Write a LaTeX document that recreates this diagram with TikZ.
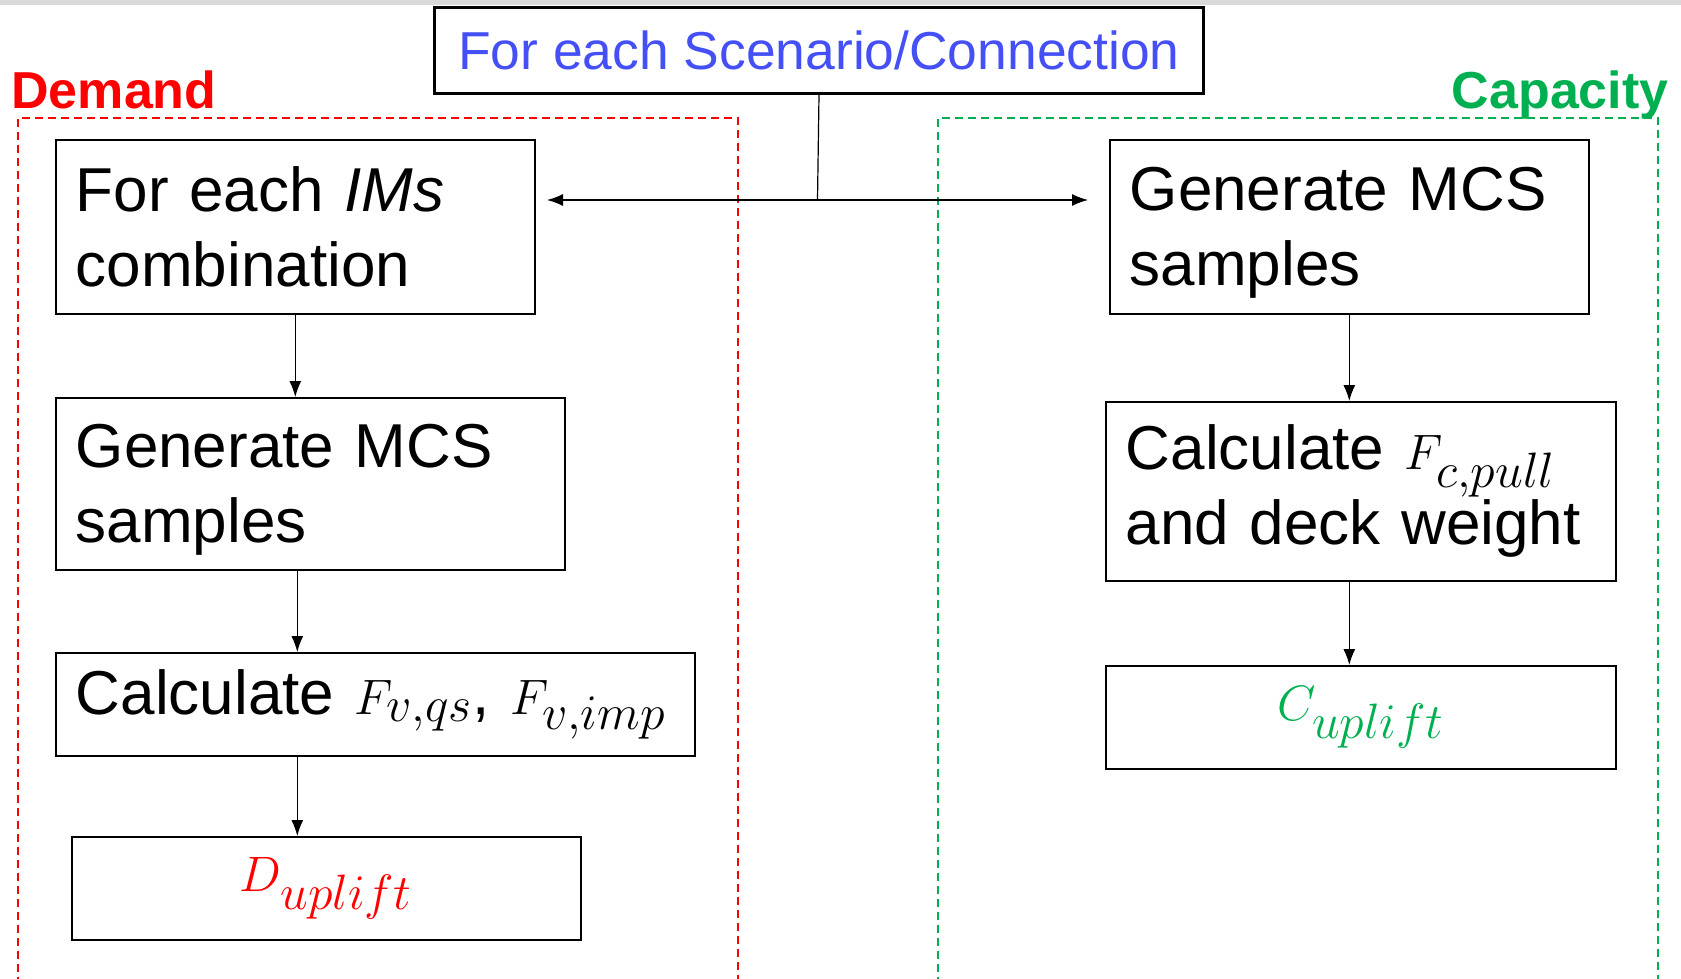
\documentclass[tikz,border=0pt]{standalone}
\usepackage{fontspec}
\setmainfont{Liberation Sans}
\usetikzlibrary{arrows.meta}
\definecolor{dred}{RGB}{255,0,0}
\definecolor{dgreen}{RGB}{0,176,80}
\definecolor{dblue}{RGB}{68,80,245}
\newcommand{\bigmath}[2]{{\fontsize{#1}{40}\selectfont$#2$}}
\begin{document}
\begin{tikzpicture}[x=0.5pt,y=-0.5pt,
  box/.style={draw=black, line width=0.8pt, inner ysep=0pt, inner xsep=10pt, anchor=north west,
    font=\fontsize{31}{37.5}\selectfont, text=black, align=left},
  arr/.style={-{Latex[length=8pt,width=6pt]}, line width=0.6pt},
  zone/.style={dash pattern=on 4pt off 2.5pt, line width=0.6pt},
  lbl/.style={font=\fontsize{26}{30}\selectfont\bfseries, inner sep=0pt}
]
\useasboundingbox (0,0) rectangle (1681,979);
\fill[black!15] (0,0) rectangle (1681,5);

% zones
\draw[zone, draw=dred] (18,985) -- (18,118) -- (738,118) -- (738,985);
\draw[zone, draw=dgreen] (938,985) -- (938,118) -- (1658,118) -- (1658,985);
\node[lbl, text=dred, anchor=base west] (demand) at (11,109) {Demand};
\node[lbl, text=dgreen, anchor=base east] (capacity) at (1669,109) {Capacity};

% top box
\node[draw=black, line width=1.5pt, fill=white, minimum width=384.5pt, minimum height=43pt, inner sep=0pt,
  anchor=north west, text=dblue, font=\fontsize{26.7}{32}\selectfont] (top) at (433,6) {For each Scenario/Connection};

% left column
\node[box, text width=219.5pt, minimum height=87pt] (b1) at (55,139) {For each \textit{IMs}\\combination};
\node[box, text width=234.5pt, minimum height=86pt] (b2) at (55,397) {\rule{0pt}{28pt}Generate MCS\\samples};
\node[box, text width=299.5pt, minimum height=51.5pt] (b3) at (55,652) {Calculate \bigmath{35}{F_{v,qs}},~\bigmath{35}{F_{v,imp}}};
\node[box, text width=234.5pt, minimum height=51.5pt, align=center, text=dred] (b4) at (71,836) {\bigmath{37}{D_{uplift}}};

% right column
\node[box, text width=219.5pt, minimum height=87pt] (r1) at (1109,139) {\rule{0pt}{28pt}Generate MCS\\samples};
\node[box, text width=235pt, minimum height=89.5pt] (r2) at (1105,401) {Calculate \bigmath{35}{F_{c,pull}}\\and deck weight};
\node[box, text width=235pt, minimum height=51.5pt, align=center, text=dgreen] (r3) at (1105,665) {\bigmath{37}{C_{uplift}}};

% connectors
\coordinate (j) at (817.5,200);
\coordinate (la) at (547,200);
\coordinate (ra) at (1088,200);
\draw[line width=0.6pt] (top.south) -- (j);
\draw[arr] (j) -- (la);
\draw[arr] (j) -- (ra);

\draw[arr] (b1.south) -- (b1.south |- b2.north);
\draw[arr] ([xshift=1pt]b1.south |- b2.south) -- ([xshift=1pt]b1.south |- b3.north);
\draw[arr] ([xshift=1pt]b1.south |- b3.south) -- ([xshift=1pt]b1.south |- b4.north);
\draw[arr] (r1.south) -- (r1.south |- r2.north);
\draw[arr] (r1.south |- r2.south) -- (r1.south |- r3.north);
\end{tikzpicture}
\end{document}
